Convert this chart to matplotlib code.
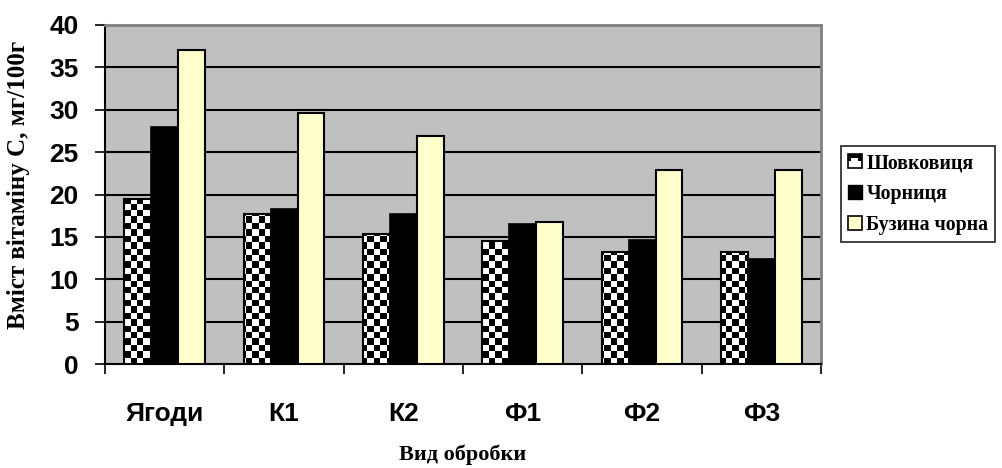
import numpy as np
import matplotlib
matplotlib.use("Agg")
import matplotlib.pyplot as plt
from matplotlib.patches import Patch, Rectangle, PathPatch
from matplotlib.path import Path
from matplotlib.legend_handler import HandlerBase

# вміст вітаміну С, мг/100г
categories = ["Ягоди", "К1", "К2", "Ф1", "Ф2", "Ф3"]
series_names = ["Шовковиця", "Чорниця", "Бузина чорна"]
shovkovytsia = [19.5, 17.7, 15.3, 14.5, 13.2, 13.2]
chornytsia = [28.0, 18.3, 17.7, 16.5, 14.6, 12.4]
buzyna = [37.0, 29.6, 26.9, 16.8, 22.9, 22.9]
yticks = [0, 5, 10, 15, 20, 25, 30, 35, 40]

SANS = ["Liberation Sans", "DejaVu Sans"]
SERIF = ["Liberation Serif", "DejaVu Serif"]

fig = plt.figure(figsize=(10.02, 4.68), dpi=100)
ax = fig.add_axes([0.1048, 0.2222, 0.7146, 0.7244])
ax.set_facecolor("#C0C0C0")

x = np.arange(len(categories))
w = 0.226

# чорниця та бузина - суцільна заливка
ax.bar(x, chornytsia, w, color="black", edgecolor="black", lw=1.2, zorder=3)
ax.bar(x + w, buzyna, w, color="#FFFFCC", edgecolor="black", lw=1.5, zorder=3)

# шовковиця - шахова текстура, обрізана по контуру стовпців
sh_bars = ax.bar(x - w, shovkovytsia, w, facecolor="none", edgecolor="black",
                 lw=1.5, zorder=4)
paths = [b.get_path().transformed(b.get_patch_transform()) for b in sh_bars]
clip = PathPatch(Path.make_compound_path(*paths), transform=ax.transData,
                 facecolor="none", edgecolor="none")
ax.add_patch(clip)
nx, ny = 112, 53
checker = (np.add.outer(np.arange(ny), np.arange(nx)) % 2).astype(float)
im = ax.imshow(checker, cmap="gray", vmin=0, vmax=1, origin="lower",
               extent=(-0.5, 5.5, 0, 40), aspect="auto",
               interpolation="nearest", zorder=3)
im.set_clip_path(clip)

ax.set_xlim(-0.5, 5.5)
ax.set_ylim(0, 40)

for yv in yticks[1:-1]:
    ax.axhline(yv, color="black", lw=1.5, zorder=1)

ax.set_yticks(yticks)
ax.set_yticklabels([str(v) for v in yticks], family=SANS, fontweight="bold",
                   fontsize=19)
ax.tick_params(axis="y", direction="out", length=7, width=1.2, pad=12)

ax.set_xticks(x)
ax.set_xticklabels(categories, family=SANS, fontweight="bold", fontsize=19)
ax.set_xticks(np.arange(-0.5, 6, 1), minor=True)
ax.tick_params(axis="x", which="major", length=0, pad=27)
ax.tick_params(axis="x", which="minor", direction="out", length=7, width=1.2)

for side in ("left", "bottom"):
    ax.spines[side].set_color("black")
    ax.spines[side].set_linewidth(1.5)
for side in ("top", "right"):
    ax.spines[side].set_color("#808080")
    ax.spines[side].set_linewidth(2)

ax.set_xlabel("Вид обробки", family=SERIF, fontweight="bold", fontsize=16,
              labelpad=14)
fig.text(0.018, 0.605, "Вміст вітаміну С, мг/100г", family=SERIF,
         fontweight="bold", fontsize=18, rotation=90, ha="center", va="center")


class CheckerHandler(HandlerBase):
    def create_artists(self, legend, orig_handle, xdescent, ydescent,
                       width, height, fontsize, trans):
        s = min(width, height)
        x0, y0 = -xdescent, -ydescent
        base = Rectangle((x0, y0), s, s, facecolor="white", edgecolor="black",
                         lw=1.2, transform=trans)
        top = Rectangle((x0, y0 + s / 2), s, s / 2, facecolor="black",
                        edgecolor="none", transform=trans)
        notch = Rectangle((x0 + s * 0.25, y0 + s * 0.5), s * 0.5, s * 0.22,
                          facecolor="white", edgecolor="none", transform=trans)
        return [base, top, notch]


h0 = Patch(facecolor="white", edgecolor="black")
h1 = Patch(facecolor="black", edgecolor="black")
h2 = Patch(facecolor="#FFFFCC", edgecolor="black", lw=1.2)
leg = fig.legend([h0, h1, h2], series_names, loc="center left",
                 bbox_to_anchor=(0.839, 0.585), frameon=True, fancybox=False,
                 handlelength=0.7, handleheight=0.7, handletextpad=0.25,
                 labelspacing=0.55, borderpad=0.35, borderaxespad=0,
                 handler_map={h0: CheckerHandler()},
                 prop={"family": SERIF, "weight": "bold", "size": 14.3})
leg.get_frame().set_edgecolor("black")
leg.get_frame().set_linewidth(1.3)

fig.savefig("out.png", dpi=100)
